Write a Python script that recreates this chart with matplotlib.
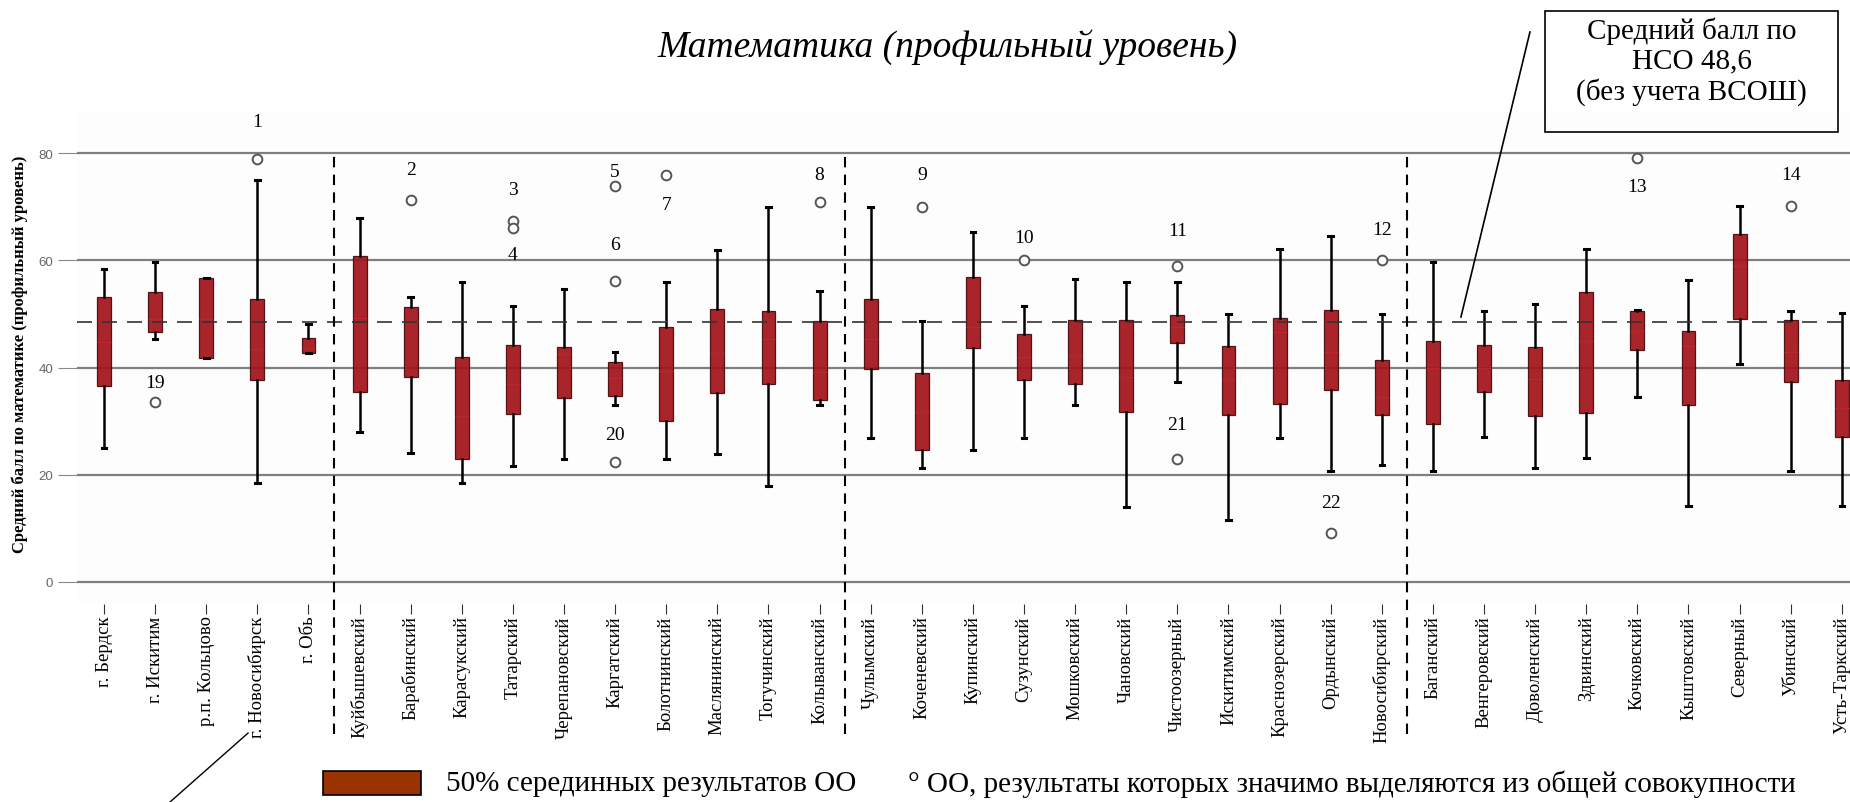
import matplotlib
matplotlib.use("Agg")
import matplotlib.pyplot as plt
from matplotlib.lines import Line2D
from matplotlib.patches import Rectangle

# районы / города
districts = ['г. Бердск', 'г. Искитим', 'р.п. Кольцово', 'г. Новосибирск', 'г. Обь',
             'Куйбышевский', 'Барабинский', 'Карасукский', 'Татарский', 'Черепановский',
             'Каргатский', 'Болотнинский', 'Маслянинский', 'Тогучинский', 'Колыванский',
             'Чулымский', 'Коченевский', 'Купинский', 'Сузунский', 'Мошковский',
             'Чановский', 'Чистоозерный', 'Искитимский', 'Краснозерский', 'Ордынский',
             'Новосибирский', 'Баганский', 'Венгеровский', 'Доволенский', 'Здвинский',
             'Кочковский', 'Кыштовский', 'Северный', 'Убинский', 'Усть-Таркский']

whis_low = [24.9, 45.4, 41.7, 18.5, 42.8, 28.0, 24.1, 18.5, 21.6, 22.9,
            33.0, 22.9, 23.9, 17.9, 33.0, 26.9, 21.2, 24.6, 26.9, 33.0,
            13.9, 37.3, 11.6, 26.9, 20.6, 21.8, 20.6, 27.1, 21.2, 23.2,
            34.6, 14.1, 40.6, 20.6, 14.1]
q1 = [36.6, 46.6, 41.7, 37.6, 42.8, 35.5, 38.3, 22.9, 31.4, 34.3,
      34.7, 30.0, 35.2, 37.0, 34.0, 39.8, 24.6, 43.7, 37.7, 37.0,
      31.8, 44.5, 31.2, 33.2, 35.8, 31.1, 29.4, 35.5, 30.9, 31.6,
      43.2, 33.1, 49.1, 37.4, 27.1]
median = [44.7, 49.0, 49.0, 43.5, 43.7, 49.3, 48.7, 31.0, 36.9, 42.5,
          38.0, 39.4, 42.8, 45.3, 39.2, 45.4, 31.7, 47.6, 41.9, 42.3,
          38.3, 47.5, 37.6, 46.6, 42.9, 34.6, 40.0, 40.0, 37.9, 45.0,
          46.9, 44.1, 58.9, 42.9, 32.5]
q3 = [53.1, 54.1, 56.8, 52.8, 45.6, 60.8, 51.4, 42.0, 44.2, 43.9,
      41.0, 47.6, 50.9, 50.6, 48.7, 52.9, 39.0, 56.9, 46.2, 48.9,
      48.9, 49.9, 44.1, 49.3, 50.7, 41.4, 45.0, 44.3, 43.8, 54.2,
      50.5, 46.8, 64.9, 48.9, 37.7]
whis_high = [58.5, 59.7, 56.8, 75.1, 48.1, 68.0, 53.2, 55.9, 51.5, 54.6,
             43.0, 56.0, 62.0, 70.0, 54.3, 70.0, 48.7, 65.3, 51.5, 56.5,
             56.0, 56.0, 50.0, 62.1, 64.6, 50.0, 59.8, 50.5, 51.8, 62.1,
             50.7, 56.4, 70.1, 50.5, 50.2]

# выбросы: индекс района, значение, номер
out_idx = [3, 1, 6, 8, 8, 10, 10, 10, 11, 14, 16, 18, 21, 21, 24, 25, 30, 33]
out_val = [79.0, 33.6, 71.3, 67.4, 66.1, 73.9, 56.2, 22.4, 76.0, 71.0,
           70.0, 60.1, 59.0, 22.9, 9.1, 60.0, 79.2, 70.1]
out_lbl = ['1', '19', '2', '3', '4', '5', '6', '20', '7', '8',
           '9', '10', '11', '21', '22', '12', '13', '14']
out_shift = [6.9, 3.6, 5.6, 5.9, -5.0, 2.8, 6.8, 5.1, -5.6, 5.1,
             6.1, 4.2, 6.6, 6.5, 5.7, 5.7, -5.3, 6.0]

nso_mean = 48.6
separators = [4.5, 14.5, 25.5]

serif = 'Liberation Serif'
fig = plt.figure(figsize=(18.5, 8.03), dpi=100)
ax = fig.add_axes([0.0416, 0.2462, 0.9584, 0.6149])
ax.set_facecolor('#fdfdfd')

stats = []
for i in range(len(districts)):
    fl = [v for j, v in zip(out_idx, out_val) if j == i]
    stats.append(dict(whislo=whis_low[i], q1=q1[i], med=median[i], q3=q3[i],
                      whishi=whis_high[i], fliers=fl))

ax.bxp(stats, positions=range(len(districts)), widths=0.27, capwidths=0.09,
       patch_artist=True,
       boxprops=dict(facecolor='#a3141b', edgecolor='#4a0a0a', linewidth=0.9, alpha=0.93),
       medianprops=dict(color='#b8262d', linewidth=1.0),
       whiskerprops=dict(color='black', linewidth=1.8),
       capprops=dict(color='black', linewidth=2.2),
       flierprops=dict(marker='o', markerfacecolor='white', markeredgecolor='#555555',
                       markersize=7, markeredgewidth=1.4),
       zorder=3)

for v in [0, 20, 40, 60, 80]:
    ax.axhline(v, color='#7f7f7f', linewidth=1.6, zorder=2)
ax.axhline(nso_mean, color='#333333', linewidth=1.2, dashes=(9, 6), zorder=4)
for s in separators:
    ax.vlines(s, -28.4, 80, color='black', linewidth=1.5, linestyles=(0, (5, 3.5)),
              clip_on=False, zorder=4)

for j, v, t, d in zip(out_idx, out_val, out_lbl, out_shift):
    ax.text(j, v + d, t, ha='center', va='center', fontsize=14, family=serif, zorder=5)

ax.set_xlim(-0.53, 34.16)
ax.set_ylim(-4.2, 88)
ax.set_yticks([0, 20, 40, 60, 80])
ax.set_xticks(range(len(districts)))
ax.set_xticklabels(districts, rotation=90, fontsize=13.5, family=serif, va='top')
ax.tick_params(axis='x', length=7, color='#333333', pad=1)
ax.tick_params(axis='y', length=14, color='#8a8a8a', pad=3, labelsize=9.5, labelcolor='#666666')
for lab in ax.get_yticklabels():
    lab.set_family('Liberation Sans')
for sp in ax.spines.values():
    sp.set_visible(False)

fig.text(0.512, 0.9415, 'Математика (профильный уровень)', ha='center', va='center',
         fontsize=27, style='italic', family=serif)
fig.text(0.0108, 0.559, 'Средний балл по математике (профильный уровень)', rotation=90,
         ha='center', va='center', fontsize=12, fontweight='bold', family=serif)

# подпись среднего по НСО
fig.text(0.9144, 0.9231, 'Средний балл по\nНСО 48,6\n(без учета ВСОШ)', ha='center', va='center',
         fontsize=21, family=serif, linespacing=1.15)
fig.patches.append(Rectangle((0.8351, 0.8344), 0.1584, 0.1507, transform=fig.transFigure,
                             fill=False, edgecolor='black', linewidth=1.2))
fig.lines.append(Line2D([0.8270, 0.7897], [0.9589, 0.6040], transform=fig.transFigure,
                        color='black', linewidth=1.2))
fig.lines.append(Line2D([0.1341, 0.0865], [0.0859, -0.011], transform=fig.transFigure,
                        color='black', linewidth=1.0))

# легенда
fig.patches.append(Rectangle((0.1746, 0.0087), 0.0530, 0.0299, transform=fig.transFigure,
                             facecolor='#993300', edgecolor='black', linewidth=1.2))
fig.text(0.2411, 0.0237, '50% серединных результатов ОО', ha='left', va='center',
         fontsize=21, family=serif)
fig.text(0.4908, 0.0237, '° ОО, результаты которых значимо выделяются из общей совокупности',
         ha='left', va='center', fontsize=21, family=serif)

fig.savefig('out.png', dpi=100)
